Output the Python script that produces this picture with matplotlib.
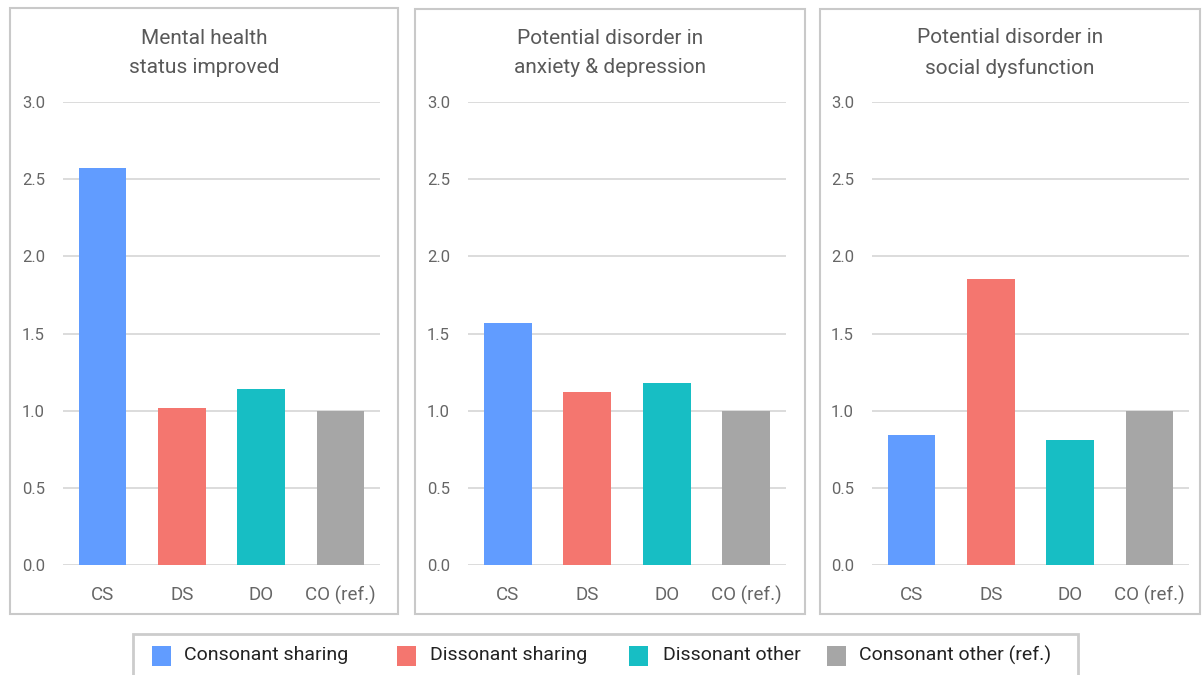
import matplotlib.pyplot as plt
from matplotlib.patches import Rectangle

plt.rcParams['font.family'] = ['Roboto', 'DejaVu Sans']

W, H = 1202, 675

groups = ['CS', 'DS', 'DO', 'CO (ref.)']
legend_labels = ['Consonant sharing', 'Dissonant sharing', 'Dissonant other', 'Consonant other (ref.)']
colors = ['#619CFF', '#F4766F', '#17BEC4', '#A6A6A6']

titles = ['Mental health\nstatus improved',
          'Potential disorder in\nanxiety & depression',
          'Potential disorder in\nsocial dysfunction']
mental_health = [2.57, 1.02, 1.14, 1.00]
anxiety_depression = [1.57, 1.12, 1.18, 1.00]
social_dysfunction = [0.84, 1.85, 0.81, 1.00]
yticks = [0.0, 0.5, 1.0, 1.5, 2.0, 2.5, 3.0]

fig = plt.figure(figsize=(W / 100, H / 100), dpi=100)


def box(x0, y0, x1, y1):
    # pixel box (top-left origin) -> figure fraction rect
    return [x0 / W, 1 - y1 / H, (x1 - x0) / W, (y1 - y0) / H]


def frame(x0, y0, x1, y1, lw=1.5, color='#c9c9c9'):
    l, b, w, h = box(x0, y0, x1, y1)
    fig.patches.append(Rectangle((l, b), w, h, transform=fig.transFigure,
                                 fill=False, edgecolor=color, linewidth=lw))


panels = [
    ((10, 8, 398, 614), (63, 102, 380, 565), mental_health),
    ((415, 9, 805, 614), (468, 102, 786, 565), anxiety_depression),
    ((820, 9, 1200, 614), (872, 102, 1189, 565), social_dysfunction),
]

for (outer, inner, vals), title in zip(panels, titles):
    frame(*outer)
    ax = fig.add_axes(box(*inner))
    x = range(len(groups))
    ax.bar(x, vals, width=0.6, color=colors, zorder=2)
    ax.set_xlim(-0.5, 3.5)
    ax.set_ylim(0, 3.0)
    ax.set_yticks(yticks)
    ax.set_yticklabels([f'{t:.1f}' for t in yticks])
    ax.set_xticks(list(x))
    ax.set_xticklabels(groups)
    ax.tick_params(axis='y', length=0, pad=13, labelsize=12, labelcolor='#666666')
    ax.tick_params(axis='x', length=0, pad=15, labelsize=13.5, labelcolor='#666666')
    ax.grid(axis='y', color='#dcdcdc', linewidth=1.4, zorder=0)
    ax.set_axisbelow(True)
    for s in ax.spines.values():
        s.set_visible(False)
    cx = (outer[0] + outer[2]) / 2
    fig.text(cx / W, 1 - 53 / H, title, ha='center', va='center',
             fontsize=15, color='#595959', linespacing=1.7)

# legend strip along the bottom
frame(133, 634, 1078, 700, lw=2, color='#cccccc')
sq_x = [152, 397, 629, 827]
txt_x = [184, 430, 663, 859]
for sx, tx, c, lab in zip(sq_x, txt_x, colors, legend_labels):
    l, b, w, h = box(sx, 646, sx + 19, 666)
    fig.patches.append(Rectangle((l, b), w, h, transform=fig.transFigure,
                                 facecolor=c, edgecolor='none'))
    fig.text(tx / W, 1 - 655 / H, lab, ha='left', va='center',
             fontsize=14, color='#222222')

fig.savefig('out.png', dpi=100)
